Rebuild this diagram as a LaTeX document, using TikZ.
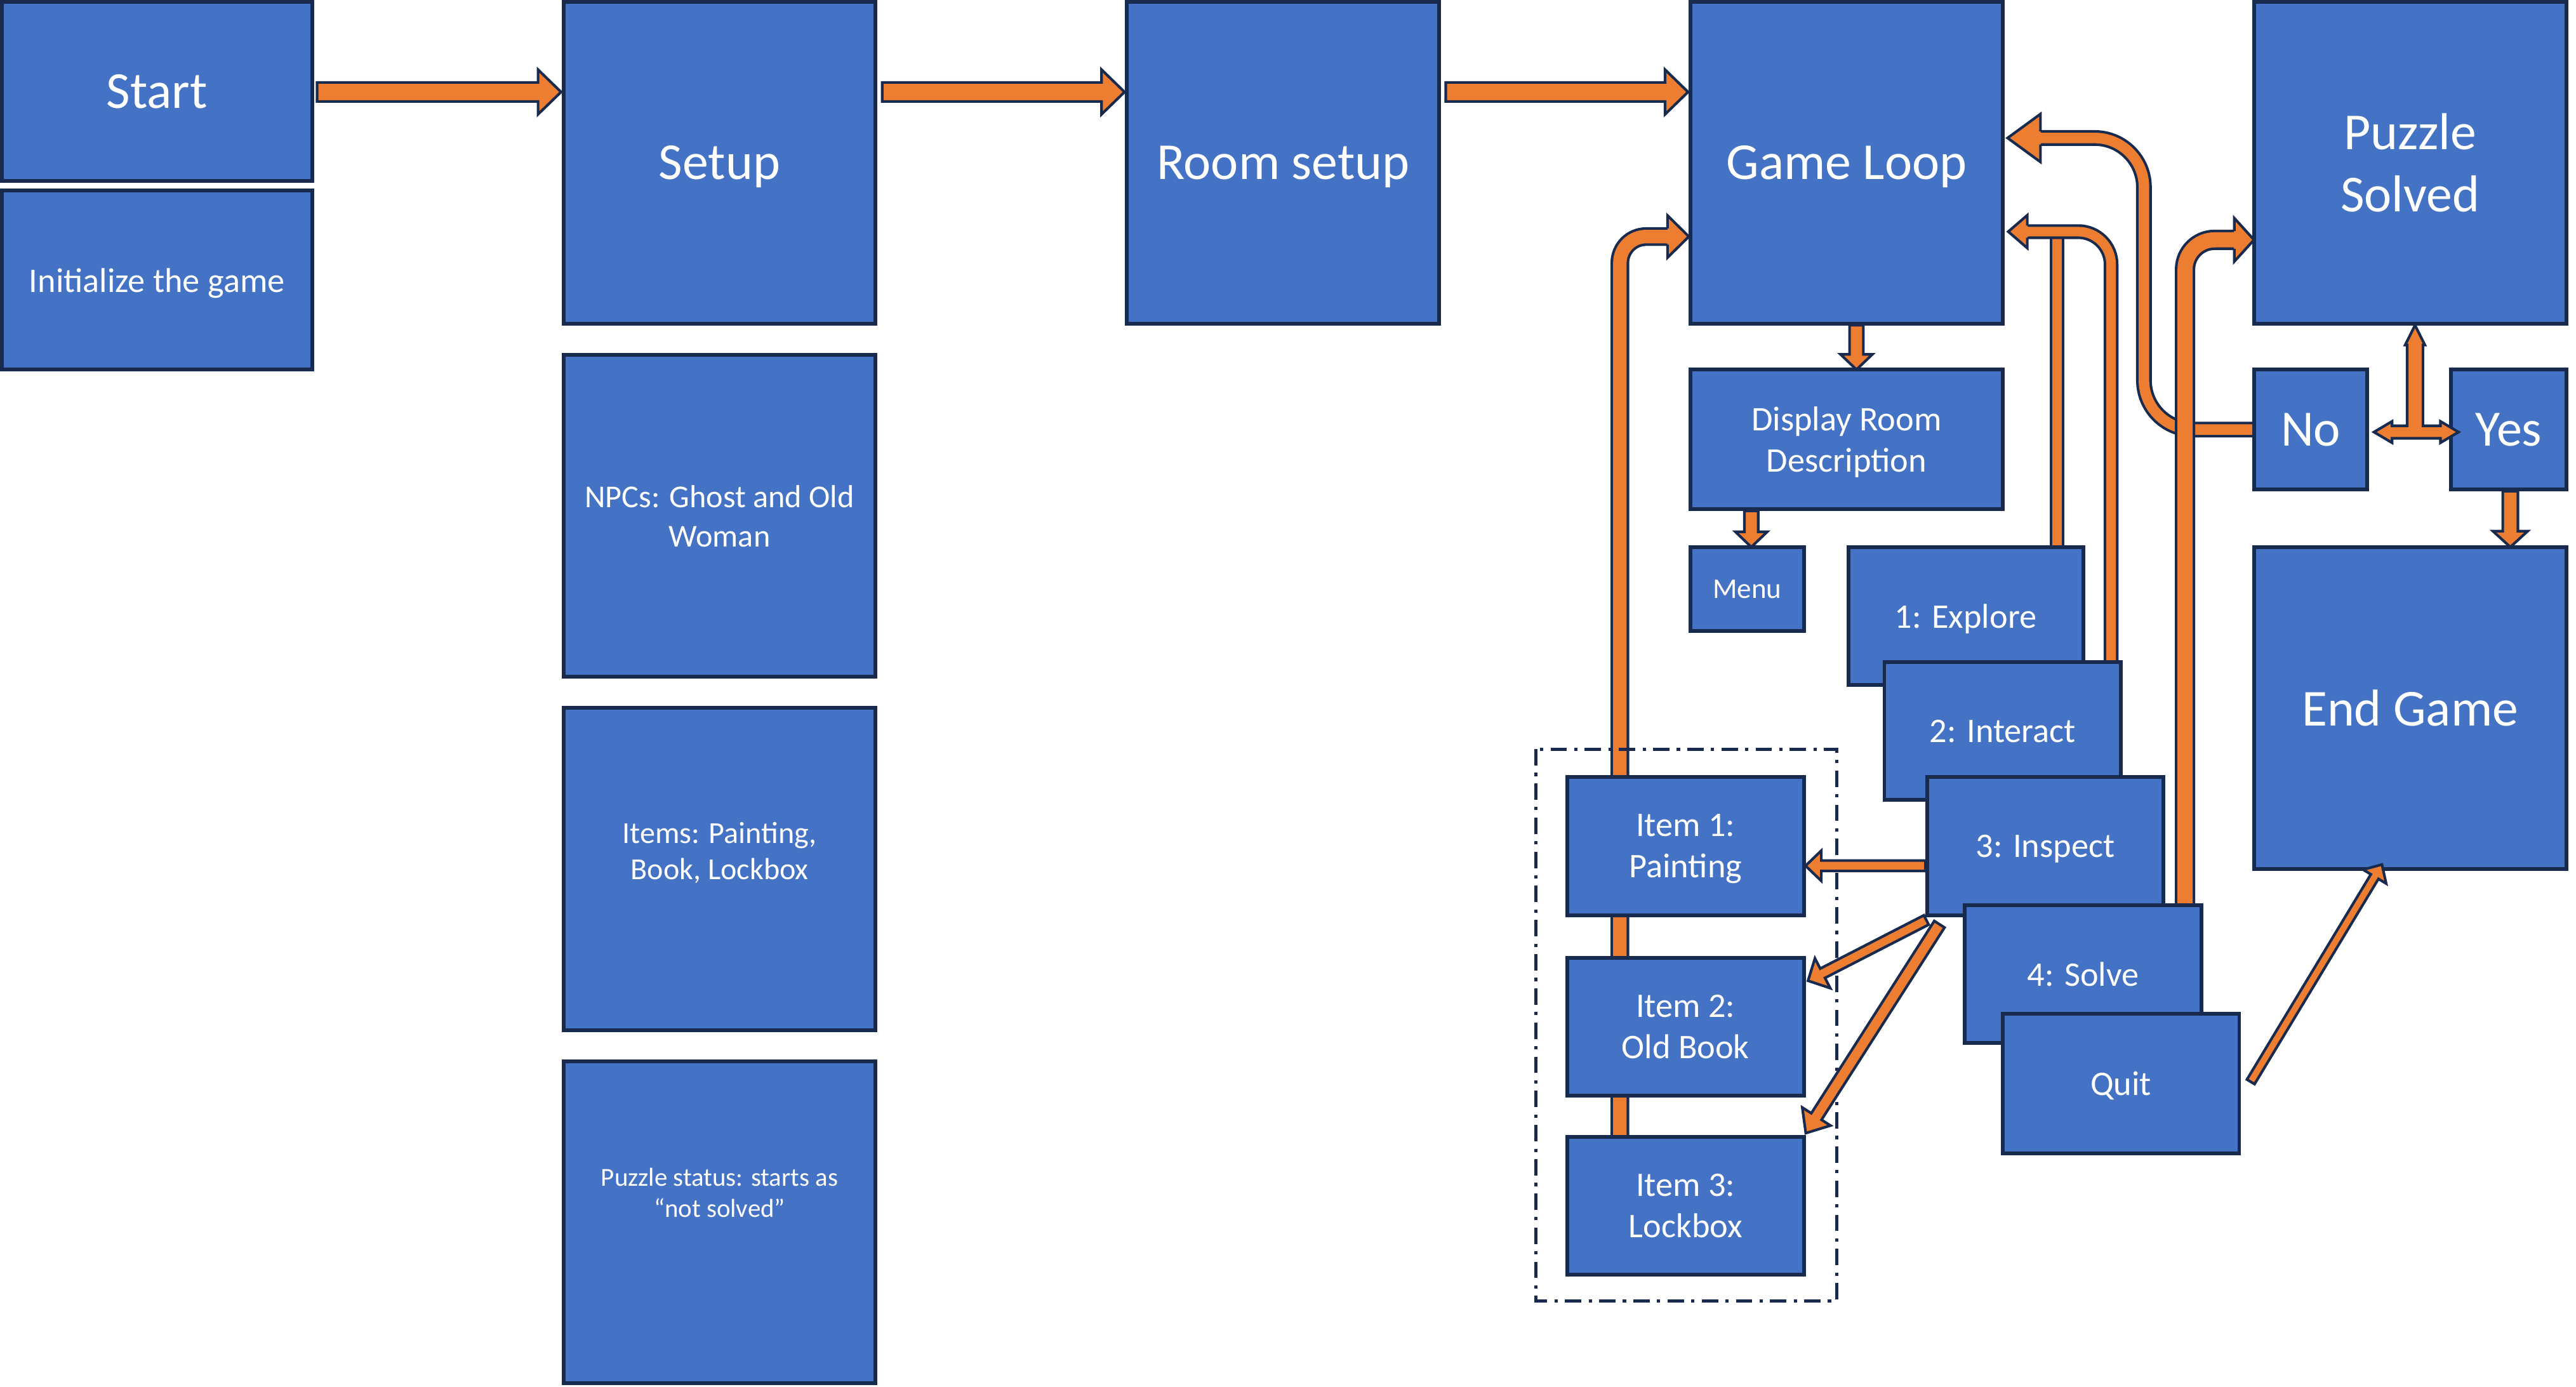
\documentclass[tikz,border=0pt]{standalone}
\usepackage{fontspec}
\setmainfont{Carlito}
\usetikzlibrary{calc,backgrounds}
\definecolor{boxblue}{RGB}{68,114,196}
\definecolor{navy}{RGB}{24,43,78}
\definecolor{aorange}{RGB}{237,125,49}
\tikzset{
 box/.style={draw=navy, fill=boxblue, line width=1.15pt, text=white, inner sep=2pt, outer sep=0pt, align=center, text depth=0pt},
 big/.style={font=\fontsize{15.8}{19}\selectfont},
 bigno/.style={font=\fontsize{15.5}{19}\selectfont},
 mid/.style={font=\fontsize{10.5}{12.5}\selectfont},
 npc/.style={font=\fontsize{9.7}{12}\selectfont},
 itm/.style={font=\fontsize{9.3}{11}\selectfont},
 stat/.style={font=\fontsize{7.9}{9.5}\selectfont},
 small/.style={font=\fontsize{8.7}{10}\selectfont},
 pipe/.style={draw=navy, double=aorange, line width=0.8pt, line join=round},
 blockarrow/.style={draw=navy, fill=aorange, line width=0.8pt, line join=miter},
}
\newcommand\bx[7][]{%
 \pgfmathsetmacro\bxw{(#5-#3)*0.5}\pgfmathsetmacro\bxh{(#6-#4)*0.5}%
 \node[box,#1,minimum width=\bxw pt,minimum height=\bxh pt] (#2) at ({(#3+#5)/2},{(#4+#6)/2}) {#7};}
\newcommand\barrow[5]{%
 \draw[blockarrow] let \p1=#1, \p2=#2, \n1={atan2(\y2-\y1,\x2-\x1)}, \n2={veclen(\x2-\x1,\y2-\y1)} in
 [shift={(\p1)}, rotate=\n1]
 (0pt,-#3) -- ({\n2*1pt-#5},-#3) -- ({\n2*1pt-#5},-#4) -- ({\n2*1pt},0pt) -- ({\n2*1pt-#5},#4) -- ({\n2*1pt-#5},#3) -- (0pt,#3) -- cycle;}
\newcommand\ahead[5]{%
 \begin{scope}[shift={#1}, rotate=#2]
  \fill[aorange] (-0.6pt,{0.4pt-#3}) -- (0pt,{0.4pt-#3}) -- (0pt,-#4) -- (#5,0pt) -- (0pt,#4) -- (0pt,{#3-0.4pt}) -- (-0.6pt,{#3-0.4pt}) -- cycle;
  \draw[navy, line width=0.8pt, line join=miter] (0pt,#3) -- (0pt,#4) -- (#5,0pt) -- (0pt,-#4) -- (0pt,-#3);
 \end{scope}}
\begin{document}
\begin{tikzpicture}[x=0.5pt,y=-0.5pt]
\useasboundingbox (0,0) rectangle (1568,844);
% boxes
\bx[big]{start}{1}{1}{190}{110}{Start}
\bx[mid]{init}{1}{116}{190}{225}{Initialize the game}
\bx[big]{setup}{343}{1}{533}{197}{Setup}
\bx[npc]{npc}{343}{216}{533}{412}{NPCs: Ghost and Old\\Woman}
\bx[label={[itm,text=white,align=center,yshift=5pt]center:{Items: Painting,\\Book, Lockbox}}]{items}{343}{431}{533}{627}{}
\bx[label={[stat,text=white,align=center,yshift=9pt]center:{Puzzle status: starts as\\“not solved”}}]{status}{343}{646}{533}{842}{}
\bx[big]{room}{686}{1}{876}{197}{Room setup}
\bx[big]{loop}{1029}{1}{1219}{197}{Game Loop}
\bx[big]{solved}{1372}{1}{1562}{197}{Puzzle\\Solved}
\bx[mid]{display}{1029}{225}{1219}{310}{Display Room\\Description}
\bx[small]{menu}{1029}{333}{1098}{384}{Menu}
\bx[bigno]{no}{1372}{225}{1441}{298}{No}
\bx[bigno]{yes}{1492}{225}{1562}{298}{Yes}
\bx[big]{end}{1372}{333}{1562}{529}{End Game}
\bx[mid]{explore}{1125}{333}{1268}{417}{1: Explore}
\bx[mid]{interact}{1147}{403}{1291}{487}{2: Interact}
\bx[mid]{inspect}{1173}{473}{1317}{557}{3: Inspect}
\bx[mid]{solve}{1196}{551}{1340}{635}{4: Solve}
\bx[mid]{quit}{1219}{617}{1363}{702}{Quit}
\bx[mid]{item1}{954}{473}{1098}{557}{Item 1:\\Painting}
\bx[mid]{item2}{954}{583}{1098}{667}{Item 2:\\Old Book}
\bx[mid]{item3}{954}{692}{1098}{776}{Item 3:\\Lockbox}
% item group
\draw[navy, line width=1pt, dash pattern=on 5pt off 2.2pt on 1pt off 2.2pt] (935,456) rectangle (1118,792);
% looping connectors behind the boxes
\begin{pgfonlayer}{background}
 \coordinate (lx) at (986,0);
 \coordinate (lb) at (1015,144);
 \draw[pipe, double distance=4.1pt, rounded corners=8pt] (item3.north -| lx) -- (lx |- lb) -- (lb);
 \ahead{(lb)}{0}{2.45pt}{6.4pt}{6.5pt}
 \coordinate (ex) at (1252,143);
 \draw[pipe, double distance=2.9pt] (explore.north -| ex) -- (ex);
 \coordinate (ix) at (1285,0);
 \coordinate (ib) at (1234,141);
 \draw[pipe, double distance=2.9pt, rounded corners=10pt] (interact.north -| ix) -- (ix |- ib) -- (ib);
 \ahead{(ib)}{180}{1.85pt}{5pt}{5.8pt}
 \coordinate (nx) at (1305,0);
 \coordinate (nb) at (1242,84);
 \draw[pipe, double distance=3.2pt, rounded corners=15pt] (no.west) -- (nx |- no.west) -- (nx |- nb) -- (nb);
 \ahead{(nb)}{180}{2pt}{7.3pt}{10pt}
 \coordinate (sx) at (1330,0);
 \coordinate (sb) at (1360,146);
 \draw[pipe, double distance=4.6pt, rounded corners=9pt] (solve.north -| sx) -- (sx |- sb) -- (sb);
 \ahead{(sb)}{0}{2.7pt}{6.6pt}{6pt}
\end{pgfonlayer}
% main flow arrows
\barrow{($(start.east)+(3,0.5)$)}{($(start.east -| setup.west)+(-1.5,0.5)$)}{2.9pt}{6.8pt}{7pt}
\barrow{($(start.east -| setup.east)+(4,0.5)$)}{($(start.east -| room.west)+(-1.5,0.5)$)}{2.9pt}{6.8pt}{7pt}
\barrow{($(start.east -| room.east)+(4,0.5)$)}{($(start.east -| loop.west)+(-1.5,0.5)$)}{2.9pt}{6.8pt}{7pt}
% small down arrows
\barrow{($(loop.south)+(6,1)$)}{($(display.north)+(6,0)$)}{2.1pt}{4.85pt}{4.65pt}
\barrow{($(display.south -| menu.north)+(2.5,1)$)}{($(menu.north)+(2.5,0)$)}{2.1pt}{4.85pt}{4.65pt}
\barrow{($(yes.south)+(1,1)$)}{($(yes.south |- end.north)+(1,0)$)}{2.3pt}{5.3pt}{4.85pt}
% No / Yes / Puzzle Solved junction arrow
\coordinate (tj) at (1470,263);
\begin{scope}[shift={(tj)}]
 \draw[blockarrow] (-25,0) -- (-14,-6.5) -- (-14,-3.8) -- (-4.8,-3.8) -- (-4.8,-53) -- (-6,-53) -- (0,-65) -- (6,-53) -- (4.8,-53) -- (4.8,-3.8) -- (15.5,-3.8) -- (15.5,-6.5) -- (26.5,0) -- (15.5,6.5) -- (15.5,3.8) -- (-14,3.8) -- (-14,6.5) -- cycle;
\end{scope}
% inspect arrows
\barrow{($(inspect.west)+(-1,12)$)}{($(item1.east)+(1,12)$)}{1.6pt}{4.6pt}{4.8pt}
\barrow{($(inspect.south west)+(-0.5,3)$)}{($(item2.north east)+(2.5,14)$)}{1.6pt}{5.1pt}{5pt}
\barrow{($(inspect.south west)+(7.5,5.6)$)}{($(item3.north east)+(1,-2)$)}{1.85pt}{5.1pt}{6pt}
% quit to end
\barrow{($(quit.east)+(7,-1)$)}{($(end.south)+(-17,-3)$)}{1.35pt}{4.1pt}{4.3pt}
\end{tikzpicture}
\end{document}
